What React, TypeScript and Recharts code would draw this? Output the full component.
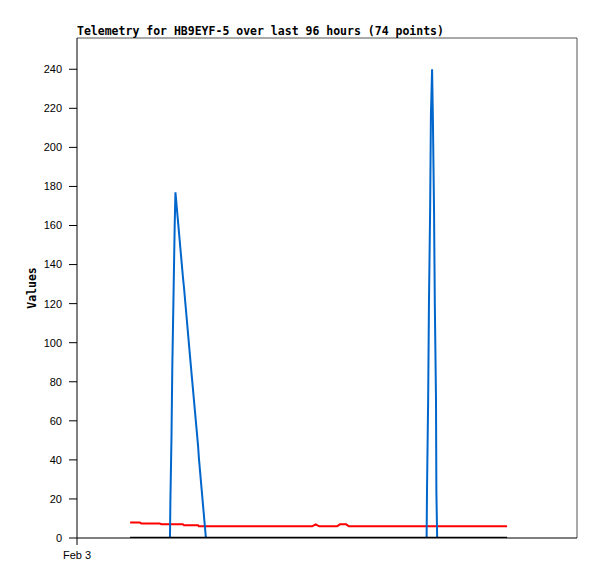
import React from "react";
import { LineChart, Line, XAxis, YAxis, ReferenceLine } from "recharts";

// hours since the left edge of the window (Feb 3, 00:00)
const hours = [
  13.6, 14.8, 16.1, 16.5, 17.9, 19.5, 21.2, 21.6, 22.8, 23.8,
  23.9, 24.2, 24.4, 24.7, 25.0, 25.2, 27.1, 27.4, 29.2, 31.0,
  31.2, 33.0, 34.8, 36.6, 38.4, 40.2, 42.0, 43.8, 45.6, 47.4,
  49.2, 50.9, 52.7, 54.5, 56.3, 58.1, 60.2, 61.1, 62.0, 63.7,
  65.5, 66.6, 67.3, 68.9, 69.6, 71.4, 73.2, 75.0, 76.8, 78.6,
  80.4, 82.2, 84.0, 85.8, 87.6, 89.5, 89.6, 89.9, 90.1, 90.4,
  90.6, 90.9, 91.1, 91.4, 91.6, 91.9, 92.0, 92.2, 95.2, 98.3,
  101.4, 104.4, 107.3, 110.1,
];

const blueValues = [
  0, 0, 0, 0, 0, 0, 0, 0, 0, 0,
  18, 53, 88, 123, 159, 177, 134, 128, 87, 47,
  41, 0, 0, 0, 0, 0, 0, 0, 0, 0,
  0, 0, 0, 0, 0, 0, 0, 0, 0, 0,
  0, 0, 0, 0, 0, 0, 0, 0, 0, 0,
  0, 0, 0, 0, 0, 0, 24, 72, 120, 168,
  216, 240, 216, 168, 120, 72, 24, 0, 0, 0,
  0, 0, 0, 0,
];

const redValues = [
  7.9, 7.9, 7.9, 7.4, 7.4, 7.4, 7.4, 7.0, 7.0, 7.0,
  7.0, 7.0, 7.0, 7.0, 7.0, 7.0, 7.0, 6.5, 6.5, 6.5,
  6.0, 6.0, 6.0, 6.0, 6.0, 6.0, 6.0, 6.0, 6.0, 6.0,
  6.0, 6.0, 6.0, 6.0, 6.0, 6.0, 6.0, 7.0, 6.0, 6.0,
  6.0, 6.0, 7.0, 7.0, 6.0, 6.0, 6.0, 6.0, 6.0, 6.0,
  6.0, 6.0, 6.0, 6.0, 6.0, 6.0, 6.0, 6.0, 6.0, 6.0,
  6.0, 6.0, 6.0, 6.0, 6.0, 6.0, 6.0, 6.0, 6.0, 6.0,
  6.0, 6.0, 6.0, 6.0,
];

const blackValues = hours.map(() => 0);

const yTicks = [0, 20, 40, 60, 80, 100, 120, 140, 160, 180, 200, 220, 240];
const xTicks = [0];
const xTickLabels = ["Feb 3"];
const X_MAX = 128;
const Y_MAX = 256;

const data = hours.map((h, i) => ({
  t: h,
  blue: blueValues[i],
  red: redValues[i],
  black: blackValues[i],
}));

const tickFont = { fontFamily: "Liberation Sans", fontSize: 11, fill: "#000" };
const monoBold = {
  fontFamily: "DejaVu Sans Mono",
  fontWeight: "bold" as const,
  fontSize: 11.5,
  fill: "#000",
};

export default function App() {
  return (
    <div
      style={{
        position: "absolute",
        left: 0,
        top: 0,
        width: 597,
        height: 579,
        background: "#fff",
      }}
    >
      <LineChart
        width={597}
        height={579}
        data={data}
        margin={{ top: 38, right: 20, bottom: 11, left: 0 }}
      >
        <XAxis
          dataKey="t"
          type="number"
          domain={[0, X_MAX]}
          ticks={xTicks}
          tickFormatter={(v, i) => xTickLabels[i] ?? String(v)}
          tick={tickFont}
          tickSize={7}
          tickMargin={6}
          height={30}
          stroke="#000"
          allowDataOverflow
        />
        <YAxis
          type="number"
          domain={[0, Y_MAX]}
          ticks={yTicks}
          tick={tickFont}
          tickSize={8}
          tickMargin={7}
          width={77}
          stroke="#000"
          allowDataOverflow
        />
        {/* plot frame, top and right */}
        <ReferenceLine y={Y_MAX} stroke="#555" strokeWidth={1} ifOverflow="visible" />
        <ReferenceLine x={X_MAX} stroke="#555" strokeWidth={1} ifOverflow="visible" />
        <Line
          type="linear"
          dataKey="red"
          stroke="#ff0000"
          strokeWidth={2}
          dot={false}
          isAnimationActive={false}
        />
        <Line
          type="linear"
          dataKey="blue"
          stroke="#0066cc"
          strokeWidth={2}
          dot={false}
          isAnimationActive={false}
        />
        <Line
          type="linear"
          dataKey="black"
          stroke="#000000"
          strokeWidth={2.5}
          dot={false}
          isAnimationActive={false}
        />
      </LineChart>
      <svg
        width={597}
        height={579}
        style={{ position: "absolute", left: 0, top: 0, pointerEvents: "none" }}
      >
        <text x={77} y={35} {...monoBold}>
          Telemetry for HB9EYF-5 over last 96 hours (74 points)
        </text>
        <text
          x={36}
          y={288}
          textAnchor="middle"
          transform="rotate(-90 36 288)"
          {...monoBold}
        >
          Values
        </text>
      </svg>
    </div>
  );
}
